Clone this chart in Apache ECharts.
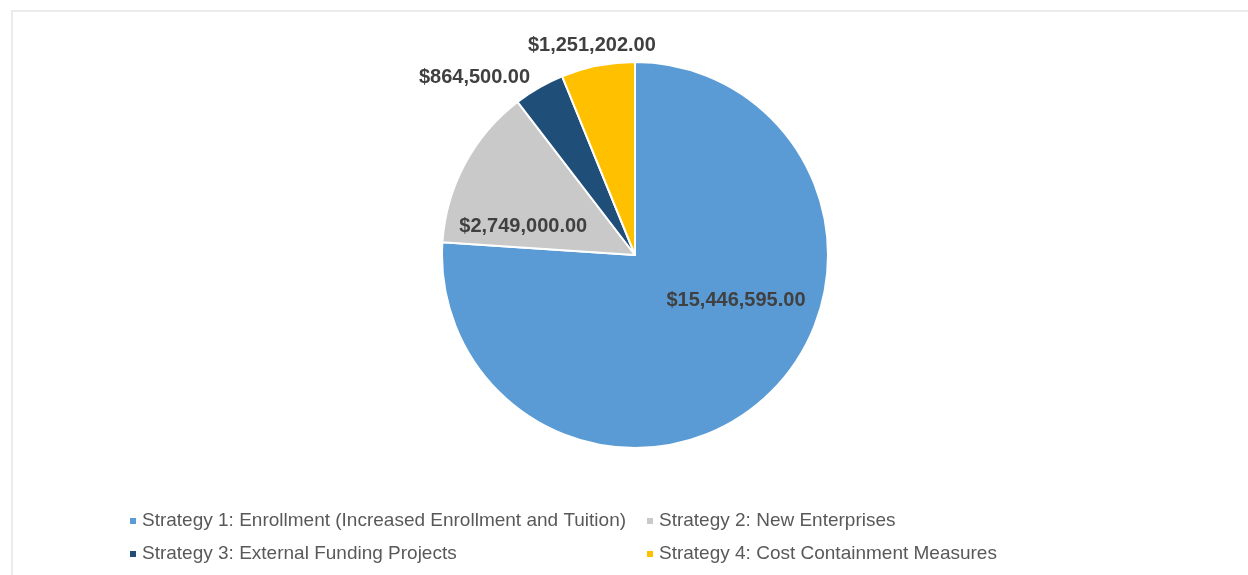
<!DOCTYPE html>
<html>
<head>
<meta charset="utf-8">
<script src="https://cdn.jsdelivr.net/npm/echarts@6/dist/echarts.min.js"></script>
<style>
html,body{margin:0;padding:0;background:#fff;overflow:hidden;}
#frame{position:absolute;left:11px;top:10px;width:1300px;height:620px;border-left:2px solid #ebebeb;border-top:2px solid #ebebeb;box-sizing:border-box;}
#chart{position:absolute;left:0;top:0;width:1248px;height:575px;}
</style>
</head>
<body>
<div id="frame"></div>
<div id="chart"></div>
<script>
const categories = [
  "Strategy 1: Enrollment (Increased Enrollment and Tuition)",
  "Strategy 2: New Enterprises",
  "Strategy 3: External Funding Projects",
  "Strategy 4: Cost Containment Measures"
];
const values = [15446595.00, 2749000.00, 864500.00, 1251202.00];
const colors = ["#5B9BD5", "#C9C9C9", "#1F4E79", "#FFC000"];
const labelOffsets = [[33, -27], [-24, 18], [-111, -91], [-24, -112]];

function fmt(v) {
  return "$" + v.toLocaleString("en-US", {minimumFractionDigits: 2, maximumFractionDigits: 2});
}

const chart = echarts.init(document.getElementById("chart"), null, {renderer: "canvas"});

const legendPos = [[128, 511], [645, 511], [128, 544], [645, 544]];
const legends = categories.map((c, i) => ({
  data: [c],
  left: legendPos[i][0],
  top: legendPos[i][1],
  padding: 0,
  icon: "rect",
  itemWidth: 8,
  itemHeight: 8,
  selectedMode: false,
  textStyle: {fontFamily: "Liberation Sans, Arial, sans-serif", fontSize: 19, color: "#595959", lineHeight: 20}
}));

chart.setOption({
  animation: false,
  color: colors,
  legend: legends,
  series: [{
    type: "pie",
    center: [635, 255],
    radius: 193,
    startAngle: 90,
    clockwise: true,
    avoidLabelOverlap: false,
    itemStyle: {borderColor: "#ffffff", borderWidth: 2},
    label: {
      show: true,
      position: "inside",
      formatter: p => fmt(p.value),
      fontFamily: "Liberation Sans, Arial, sans-serif",
      fontSize: 20,
      fontWeight: "bold",
      color: "#404040"
    },
    labelLine: {show: false},
    emphasis: {disabled: true},
    data: categories.map((c, i) => ({
      name: c,
      value: values[i],
      label: {offset: labelOffsets[i]}
    }))
  }]
});
</script>
</body>
</html>
